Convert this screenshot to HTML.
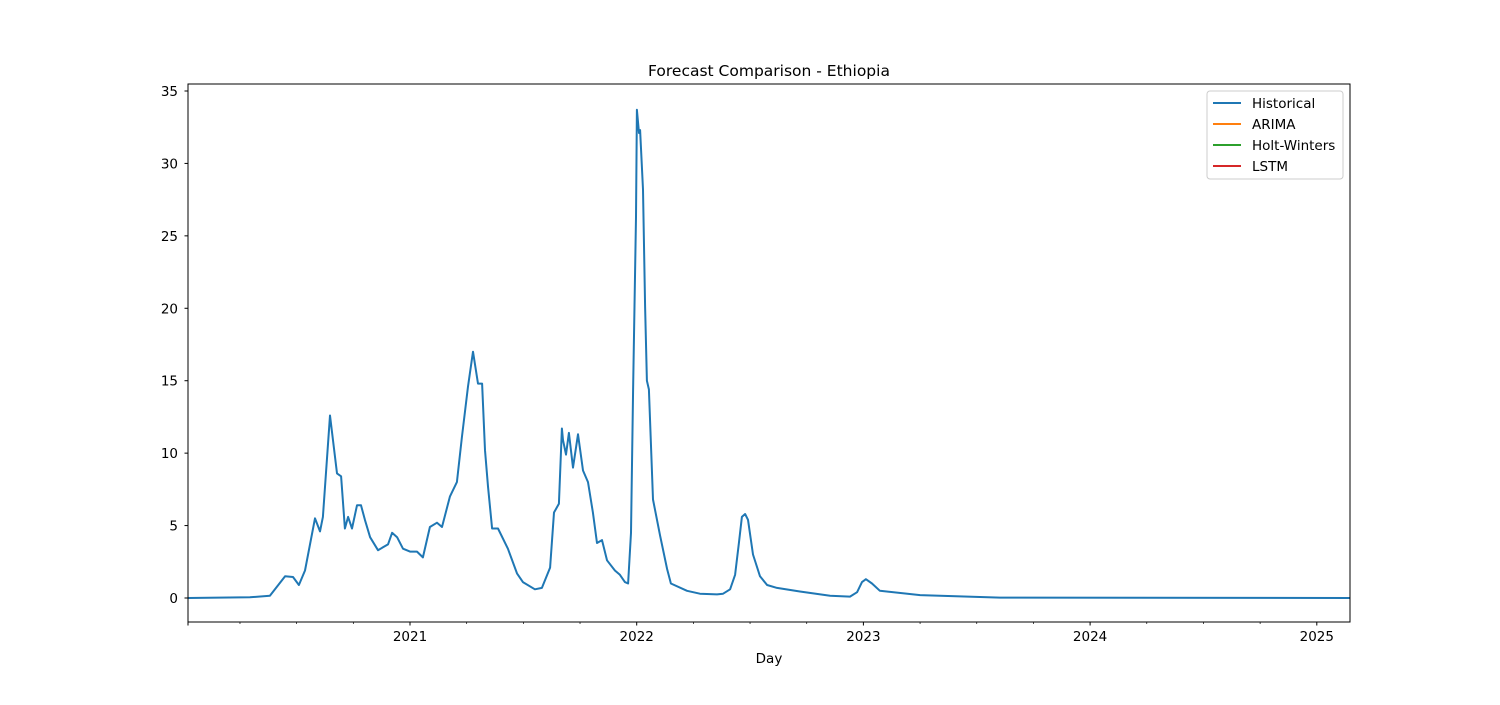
<!DOCTYPE html>
<html><head><meta charset="utf-8"><style>
body{margin:0;background:#fff;font-family:"Liberation Sans","DejaVu Sans",sans-serif;}
svg text{font-family:"DejaVu Sans","Liberation Sans",sans-serif;font-size:13.5px;fill:#000}
</style></head><body>
<svg id="chart" width="1500" height="700" xmlns="http://www.w3.org/2000/svg">
<rect width="1500" height="700" fill="#fff"/>
<text x="769" y="76" text-anchor="middle" style="font-size:15.5px">Forecast Comparison - Ethiopia</text>
<g id="ticks"></g>
<path id="hist" fill="none" stroke="#1f77b4" stroke-width="2" stroke-linejoin="round"/>
<rect x="188" y="84" width="1162" height="538" fill="none" stroke="#000" stroke-width="1"/>
<text x="769" y="663" text-anchor="middle">Day</text>
<g>
<rect x="1207" y="91" width="136" height="88" fill="#fff" stroke="#ccc" rx="3"/>
<g><line x1="1213" x2="1241" y1="103" y2="103" stroke="#1f77b4" stroke-width="2"/><text x="1252" y="108">Historical</text></g>
<g><line x1="1213" x2="1241" y1="124" y2="124" stroke="#ff7f0e" stroke-width="2"/><text x="1252" y="129">ARIMA</text></g>
<g><line x1="1213" x2="1241" y1="145" y2="145" stroke="#2ca02c" stroke-width="2"/><text x="1252" y="150">Holt-Winters</text></g>
<g><line x1="1213" x2="1241" y1="166" y2="166" stroke="#d62728" stroke-width="2"/><text x="1252" y="171">LSTM</text></g>
</g>
</svg>
<script>
const times=[2020.021,2020.294,2020.382,2020.449,2020.484,2020.510,2020.537,2020.581,2020.603,2020.616,2020.647,2020.678,2020.696,2020.713,2020.727,2020.744,2020.766,2020.784,2020.801,2020.824,2020.859,2020.881,2020.903,2020.921,2020.943,2020.969,2021.000,2021.031,2021.057,2021.088,2021.119,2021.141,2021.176,2021.207,2021.229,2021.256,2021.278,2021.300,2021.318,2021.331,2021.344,2021.362,2021.388,2021.432,2021.472,2021.498,2021.551,2021.582,2021.618,2021.635,2021.657,2021.670,2021.675,2021.688,2021.701,2021.719,2021.741,2021.763,2021.785,2021.807,2021.825,2021.847,2021.869,2021.904,2021.926,2021.948,2021.962,2021.975,2021.984,2021.997,2022.001,2022.010,2022.015,2022.028,2022.037,2022.045,2022.054,2022.072,2022.103,2022.134,2022.151,2022.222,2022.279,2022.354,2022.381,2022.412,2022.434,2022.451,2022.464,2022.478,2022.491,2022.513,2022.544,2022.575,2022.619,2022.720,2022.853,2022.941,2022.972,2022.994,2023.011,2023.038,2023.073,2023.250,2023.338,2023.602,2025.146];
const values=[0,0.05,0.15,1.5,1.45,0.9,1.9,5.5,4.6,5.6,12.6,8.6,8.4,4.8,5.6,4.8,6.4,6.4,5.4,4.2,3.3,3.5,3.7,4.5,4.2,3.4,3.2,3.2,2.8,4.9,5.2,4.9,7.0,8.0,11.1,14.6,17.0,14.8,14.8,10.2,7.7,4.8,4.8,3.4,1.7,1.1,0.6,0.7,2.1,5.9,6.5,11.7,10.9,9.9,11.4,9.0,11.3,8.8,8.0,5.9,3.8,4.0,2.6,1.9,1.6,1.1,1.0,4.5,14.4,26.3,33.7,32.1,32.3,28.2,20.1,15.0,14.4,6.8,4.3,2.0,1.0,0.5,0.3,0.25,0.3,0.6,1.6,3.8,5.6,5.8,5.4,3.0,1.5,0.9,0.7,0.45,0.15,0.1,0.4,1.1,1.3,1.0,0.5,0.2,0.15,0.03,0];
const yTicks=[0,5,10,15,20,25,30,35];
const xTickYears=[2021,2022,2023,2024,2025];
const X=t=>410+(t-2021)*226.7;
const Y=v=>598-v*14.486;
let d='';
for(let i=0;i<times.length;i++){d+=(i?'L':'M')+X(times[i]).toFixed(1)+','+Y(values[i]).toFixed(1);}
document.getElementById('hist').setAttribute('d',d);
const g=document.getElementById('ticks');
const NS='http://www.w3.org/2000/svg';
function mk(tag,attrs,txt){const e=document.createElementNS(NS,tag);for(const k in attrs)e.setAttribute(k,attrs[k]);if(txt!==undefined)e.textContent=txt;g.appendChild(e);return e;}
yTicks.forEach(v=>{
 const l=mk('line',{x1:184.5,x2:188,y1:Y(v),y2:Y(v),stroke:'#000'});
 
 
 const t=mk('text',{x:178,y:Y(v)+5,'text-anchor':'end'},String(v));
 
 
});
const edge=mk('line',{x1:188,x2:188,y1:622,y2:625.5,stroke:'#000'});


for(let q=0;q<22;q++){
 const t=2020+q/4;const x=X(t);
 if(x<190||x>1350)continue;
 const major=(q%4===0);
 const l=mk('line',{x1:x,x2:x,y1:622,y2:major?625.5:624,stroke:'#000','stroke-width':major?1:0.7});
 
 
}
xTickYears.forEach(yr=>{
 const t=mk('text',{x:X(yr),y:641,'text-anchor':'middle'},String(yr));
 
 
});
</script>
</body></html>
